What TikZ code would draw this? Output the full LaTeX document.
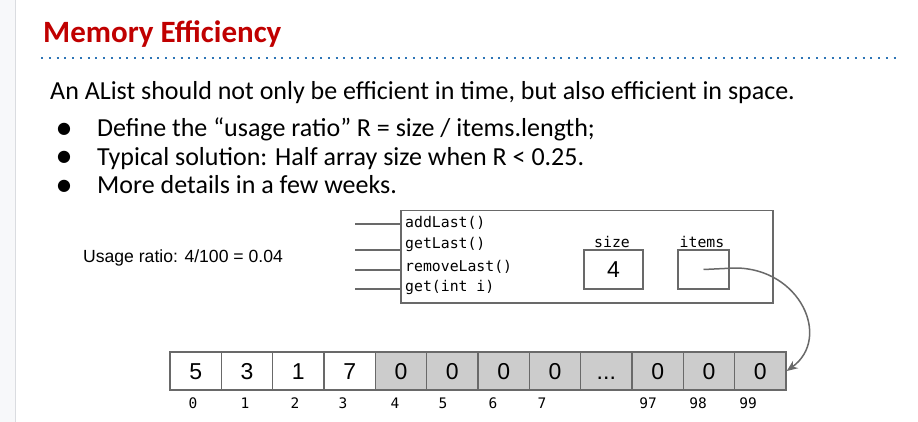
\documentclass[tikz,border=0pt]{standalone}
\usepackage{fontspec}
\setmainfont{Carlito}
\newfontfamily\arialf{Liberation Sans}
\newfontfamily\monof{DejaVu Sans Mono}
\newfontfamily\symf{DejaVu Sans}
\usetikzlibrary{arrows.meta}
\definecolor{titlered}{RGB}{192,0,0}
\definecolor{ruleblue}{RGB}{46,117,182}
\definecolor{edgegray}{RGB}{105,105,105}
\definecolor{cellgray}{RGB}{204,204,204}
\definecolor{sidebar}{RGB}{247,248,250}
\definecolor{sideline}{RGB}{218,220,224}
\newcommand\skipdots{...}
\begin{document}
\begin{tikzpicture}[x=1pt,y=-1pt,
  bodytext/.style={anchor=base west,inner sep=0,font=\fontsize{26}{26}\selectfont},
  bulletmark/.style={anchor=center,inner sep=0,font=\symf\fontsize{16}{16}\selectfont},
  methodtext/.style={anchor=west,inner sep=0,font=\monof\fontsize{14.8}{14.8}\selectfont},
  fieldlabel/.style={inner sep=0,font=\monof\fontsize{14.8}{14.8}\selectfont},
  fieldbox/.style={draw=edgegray,line width=1.5pt,minimum height=39pt,inner sep=0,font=\arialf\fontsize{23}{23}\selectfont},
  cellbox/.style={draw=edgegray,line width=1.5pt,minimum width=51.33pt,minimum height=38pt,inner sep=0,
    text height=16.5pt,text depth=0pt,font=\arialf\fontsize{23}{23}\selectfont},
  idxtext/.style={inner sep=0,font=\monof\fontsize{14.5}{14.5}\selectfont},
  wire/.style={draw=edgegray,line width=1.5pt},
  pointer/.style={draw=edgegray,line width=1.5pt,-{Stealth[length=11pt,width=9pt]}}
]
\useasboundingbox (0,0) rectangle (918,422);
\fill[white] (0,0) rectangle (918,422);

% side strip
\fill[sidebar] (0,0) rectangle (15,422);
\draw[sideline,line width=1.5pt] (15.5,0) -- (15.5,422);

% heading and rule
\node[anchor=base west,inner sep=0,text=titlered,font=\bfseries\fontsize{31}{31}\selectfont] (title) at (43,43) {Memory Efficiency};
\coordinate (ruleL) at (41,58);
\coordinate (ruleR) at (899,58);
\draw[ruleblue,line width=2pt,dash pattern=on 2pt off 5.75pt] (ruleL) -- (ruleR);

% body text
\node[bodytext] (intro) at (50,100) {An AList should not only be efficient in time, but also efficient in space.};
\node[bulletmark] (b1) at (64,129) {●};
\node[bodytext] (l1) at (97,137) {Define the “usage ratio” R = size / items.length;};
\node[bulletmark] (b2) at (64,157.5) {●};
\node[bodytext] (l2) at (97,165.5) {Typical solution: Half array size when R < 0.25.};
\node[bulletmark] (b3) at (64,186) {●};
\node[bodytext] (l3) at (97,194) {More details in a few weeks.};

% usage ratio
\node[inner sep=0,font=\arialf\fontsize{17.6}{17.6}\selectfont] (ratio) at (183,258) {Usage ratio: 4/100 = 0.04};

% AList object
\node[draw=edgegray,line width=1.5pt,anchor=north west,minimum width=372pt,minimum height=92pt,inner sep=0] (obj) at (400,210) {};
\node[methodtext] (m1) at (405,223) {addLast()};
\node[methodtext] (m2) at (405,244) {getLast()};
\node[methodtext] (m3) at (405,267) {removeLast()};
\node[methodtext] (m4) at (405,287) {get(int i)};
\coordinate (w1) at (355,224);
\coordinate (w2) at (355,250);
\coordinate (w3) at (355,270);
\coordinate (w4) at (355,289);
\foreach \w in {w1,w2,w3,w4} \draw[wire] (\w) -- (\w -| obj.west);

\node[fieldlabel] (sizelbl) at (612,242) {size};
\node[fieldbox,minimum width=59pt] (sizebox) at (613.5,269.5) {4};
\node[fieldlabel] (itemslbl) at (702,242) {items};
\node[fieldbox,minimum width=51pt] (itemsbox) at (703.5,269.5) {};

% array of 100 slots
\foreach \v [count=\i from 0] in {5,3,1,7} {
  \node[cellbox,fill=white] (c\i) at (170+51.33*\i+25.67,371) {\v};
}
\foreach \v [count=\i from 4] in {0,0,0,0,\skipdots,0,0,0} {
  \node[cellbox,fill=cellgray] (c\i) at (170+51.33*\i+25.67,371) {\v};
}
\foreach \t/\x in {0/193,1/245,2/295,3/343,4/395,5/443,6/493,7/542,97/648,98/698,99/748} {
  \node[idxtext] (i\t) at (\x,403) {\t};
}

% items reference
\coordinate (bend) at (735,268);
\draw[pointer] (itemsbox.center) -- (bend) .. controls (800,268) and (832,338) .. (c11.east);
\end{tikzpicture}
\end{document}
